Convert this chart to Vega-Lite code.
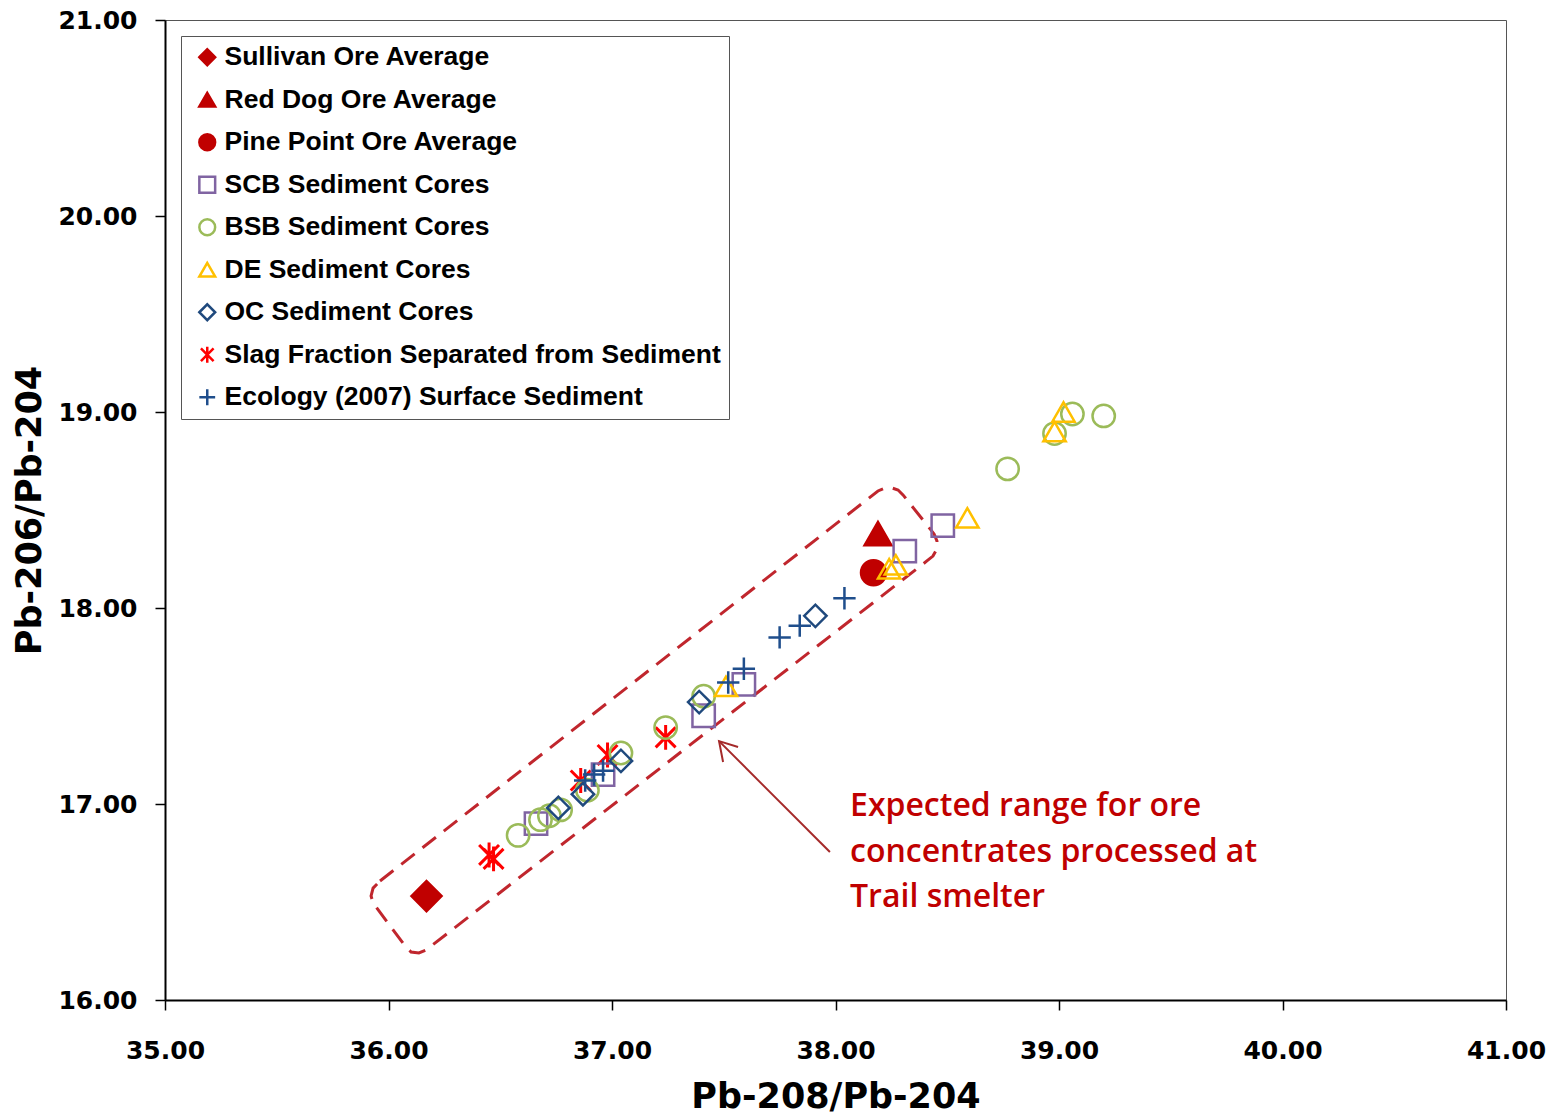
{
  "$schema": "https://vega.github.io/schema/vega-lite/v6.json",
  "width": 1341,
  "height": 980,
  "autosize": {"type": "none"},
  "padding": {"left": 165, "top": 20, "right": 50, "bottom": 120},
  "background": "white",
  "config": {
    "view": {"stroke": "#555555", "strokeWidth": 1},
    "axis": {
      "grid": false,
      "domainColor": "#000000",
      "domainWidth": 2,
      "tickColor": "#000000",
      "tickWidth": 1.5,
      "tickSize": 10,
      "labelFont": "DejaVu Sans",
      "labelFontWeight": "bold",
      "labelFontSize": 25,
      "labelColor": "#000000",
      "labelFlush": false,
      "titleFont": "DejaVu Sans",
      "titleFontWeight": "bold",
      "titleFontSize": 35,
      "titleColor": "#000000"
    }
  },
  "datasets": {
    "pts": [
      {"series": "Sullivan Ore Average", "x": 36.17, "y": 16.53},
      {"series": "Red Dog Ore Average", "x": 38.19, "y": 18.38},
      {"series": "Pine Point Ore Average", "x": 38.17, "y": 18.18},
      {"series": "SCB Sediment Cores", "x": 38.48, "y": 18.42},
      {"series": "SCB Sediment Cores", "x": 38.31, "y": 18.29},
      {"series": "SCB Sediment Cores", "x": 37.59, "y": 17.61},
      {"series": "SCB Sediment Cores", "x": 37.41, "y": 17.45},
      {"series": "SCB Sediment Cores", "x": 36.66, "y": 16.90},
      {"series": "SCB Sediment Cores", "x": 36.96, "y": 17.15},
      {"series": "BSB Sediment Cores", "x": 39.20, "y": 18.98},
      {"series": "BSB Sediment Cores", "x": 39.06, "y": 18.99},
      {"series": "BSB Sediment Cores", "x": 38.98, "y": 18.89},
      {"series": "BSB Sediment Cores", "x": 38.77, "y": 18.71},
      {"series": "BSB Sediment Cores", "x": 37.41, "y": 17.55},
      {"series": "BSB Sediment Cores", "x": 37.24, "y": 17.39},
      {"series": "BSB Sediment Cores", "x": 36.58, "y": 16.84},
      {"series": "BSB Sediment Cores", "x": 36.68, "y": 16.92},
      {"series": "BSB Sediment Cores", "x": 36.72, "y": 16.94},
      {"series": "BSB Sediment Cores", "x": 36.77, "y": 16.97},
      {"series": "BSB Sediment Cores", "x": 36.89, "y": 17.07},
      {"series": "BSB Sediment Cores", "x": 37.04, "y": 17.26},
      {"series": "DE Sediment Cores", "x": 39.02, "y": 19.00},
      {"series": "DE Sediment Cores", "x": 38.98, "y": 18.90},
      {"series": "DE Sediment Cores", "x": 38.59, "y": 18.46},
      {"series": "DE Sediment Cores", "x": 38.24, "y": 18.20},
      {"series": "DE Sediment Cores", "x": 38.27, "y": 18.22},
      {"series": "DE Sediment Cores", "x": 37.51, "y": 17.60},
      {"series": "OC Sediment Cores", "x": 37.91, "y": 17.96},
      {"series": "OC Sediment Cores", "x": 37.39, "y": 17.52},
      {"series": "OC Sediment Cores", "x": 36.76, "y": 16.98},
      {"series": "OC Sediment Cores", "x": 36.87, "y": 17.05},
      {"series": "OC Sediment Cores", "x": 37.04, "y": 17.22},
      {"series": "Slag Fraction Separated from Sediment", "x": 36.45, "y": 16.74},
      {"series": "Slag Fraction Separated from Sediment", "x": 36.47, "y": 16.72},
      {"series": "Slag Fraction Separated from Sediment", "x": 36.86, "y": 17.12},
      {"series": "Slag Fraction Separated from Sediment", "x": 36.98, "y": 17.25},
      {"series": "Slag Fraction Separated from Sediment", "x": 37.24, "y": 17.34},
      {"series": "Ecology (2007) Surface Sediment", "x": 38.04, "y": 18.05},
      {"series": "Ecology (2007) Surface Sediment", "x": 37.84, "y": 17.91},
      {"series": "Ecology (2007) Surface Sediment", "x": 37.75, "y": 17.85},
      {"series": "Ecology (2007) Surface Sediment", "x": 37.59, "y": 17.69},
      {"series": "Ecology (2007) Surface Sediment", "x": 37.52, "y": 17.62},
      {"series": "Ecology (2007) Surface Sediment", "x": 36.88, "y": 17.12},
      {"series": "Ecology (2007) Surface Sediment", "x": 36.92, "y": 17.15},
      {"series": "Ecology (2007) Surface Sediment", "x": 36.96, "y": 17.17}
    ],
    "box": [
      {"i": 1, "x": 35.962, "y": 16.607},
      {"i": 2, "x": 38.190, "y": 18.597},
      {"i": 3, "x": 38.221, "y": 18.612},
      {"i": 4, "x": 38.253, "y": 18.612},
      {"i": 5, "x": 38.280, "y": 18.602},
      {"i": 6, "x": 38.302, "y": 18.577},
      {"i": 7, "x": 38.441, "y": 18.378},
      {"i": 8, "x": 38.454, "y": 18.342},
      {"i": 9, "x": 38.454, "y": 18.301},
      {"i": 10, "x": 38.436, "y": 18.265},
      {"i": 11, "x": 38.409, "y": 18.240},
      {"i": 12, "x": 36.168, "y": 16.255},
      {"i": 13, "x": 36.136, "y": 16.240},
      {"i": 14, "x": 36.101, "y": 16.245},
      {"i": 15, "x": 36.074, "y": 16.276},
      {"i": 16, "x": 35.931, "y": 16.495},
      {"i": 17, "x": 35.922, "y": 16.531},
      {"i": 18, "x": 35.931, "y": 16.571},
      {"i": 19, "x": 35.962, "y": 16.607}
    ],
    "arrow": [
      {"seg": "shaft", "i": 1, "x": 37.975, "y": 16.755},
      {"seg": "shaft", "i": 2, "x": 37.479, "y": 17.321},
      {"seg": "head", "i": 1, "x": 37.564, "y": 17.291},
      {"seg": "head", "i": 2, "x": 37.479, "y": 17.321},
      {"seg": "head", "i": 3, "x": 37.497, "y": 17.214}
    ],
    "note": [
      {"x": 38.065, "y": 16.99, "text": "Expected range for ore"},
      {"x": 38.065, "y": 16.755, "text": "concentrates processed at"},
      {"x": 38.065, "y": 16.526, "text": "Trail smelter"}
    ]
  },
  "encoding": {
    "x": {
      "field": "x",
      "type": "quantitative",
      "scale": {"domain": [35, 41], "nice": false, "zero": false},
      "axis": {
        "title": "Pb-208/Pb-204",
        "values": [35, 36, 37, 38, 39, 40, 41],
        "format": ".2f",
        "labelPadding": 28,
        "titlePadding": 16
      }
    },
    "y": {
      "field": "y",
      "type": "quantitative",
      "scale": {"domain": [16, 21], "nice": false, "zero": false},
      "axis": {
        "title": "Pb-206/Pb-204",
        "values": [16, 17, 18, 19, 20, 21],
        "format": ".2f",
        "labelPadding": 18,
        "titlePadding": 10
      }
    }
  },
  "layer": [
    {
      "data": {"name": "box"},
      "mark": {"type": "line", "color": "#C0262D", "strokeWidth": 3, "strokeDash": [17, 10], "interpolate": "linear"},
      "encoding": {"order": {"field": "i", "type": "quantitative"}}
    },
    {
      "data": {"name": "arrow"},
      "mark": {"type": "line", "color": "#A52A2A", "strokeWidth": 2},
      "encoding": {
        "detail": {"field": "seg", "type": "nominal"},
        "order": {"field": "i", "type": "quantitative"}
      }
    },
    {
      "data": {"name": "note"},
      "mark": {"type": "text", "align": "left", "baseline": "middle", "font": "Open Sans", "fontWeight": 600, "fontSize": 32, "color": "#C00000"},
      "encoding": {"text": {"field": "text", "type": "nominal"}}
    },
    {
      "data": {"name": "pts"},
      "layer": [
        {
          "transform": [{"filter": "datum.series === 'Sullivan Ore Average'"}],
          "mark": {"type": "point", "opacity": 1, "strokeWidth": 2, "size": 950}
        },
        {
          "transform": [{"filter": "datum.series === 'Red Dog Ore Average'"}],
          "mark": {"type": "point", "opacity": 1, "strokeWidth": 2, "size": 760}
        },
        {
          "transform": [{"filter": "datum.series === 'Pine Point Ore Average'"}],
          "mark": {"type": "point", "opacity": 1, "strokeWidth": 2, "size": 650}
        },
        {
          "transform": [{"filter": "datum.series === 'Slag Fraction Separated from Sediment'"}],
          "mark": {"type": "point", "opacity": 1, "strokeWidth": 3, "size": 620}
        },
        {
          "transform": [{"filter": "datum.series !== 'Sullivan Ore Average' && datum.series !== 'Red Dog Ore Average' && datum.series !== 'Pine Point Ore Average' && datum.series !== 'Slag Fraction Separated from Sediment'"}],
          "mark": {"type": "point", "opacity": 1, "strokeWidth": 2.5, "size": 500}
        }
      ],
      "encoding": {
        "shape": {
          "field": "series",
          "type": "nominal",
          "sort": null,
          "scale": {
            "domain": ["Sullivan Ore Average", "Red Dog Ore Average", "Pine Point Ore Average", "SCB Sediment Cores", "BSB Sediment Cores", "DE Sediment Cores", "OC Sediment Cores", "Slag Fraction Separated from Sediment", "Ecology (2007) Surface Sediment"],
            "range": ["diamond", "triangle-up", "circle", "square", "circle", "triangle-up", "diamond", "M-0.8,-0.8L0.8,0.8M-0.8,0.8L0.8,-0.8M0,-1L0,1", "M-1,0L1,0M0,-1L0,1"]
          },
          "legend": {
            "title": null,
            "orient": "none",
            "legendX": 16,
            "legendY": 16,
            "padding": 8,
            "symbolOffset": 5,
            "labelOffset": 4,
            "rowPadding": 15.5,
            "symbolSize": 250,
            "symbolStrokeWidth": 2.5,
            "labelFont": "Liberation Sans",
            "labelFontWeight": "bold",
            "labelFontSize": 26.5,
            "labelColor": "#000000",
            "labelLimit": 800,
            "strokeColor": "#555555",
            "fillColor": "white"
          }
        },
        "stroke": {
          "field": "series",
          "type": "nominal",
          "sort": null,
          "scale": {
            "domain": ["Sullivan Ore Average", "Red Dog Ore Average", "Pine Point Ore Average", "SCB Sediment Cores", "BSB Sediment Cores", "DE Sediment Cores", "OC Sediment Cores", "Slag Fraction Separated from Sediment", "Ecology (2007) Surface Sediment"],
            "range": ["#C00000", "#C00000", "#C00000", "#8064A2", "#9BBB59", "#FFC000", "#1F497D", "#FF0000", "#1F4E8C"]
          },
          "legend": {"title": null}
        },
        "fill": {
          "field": "series",
          "type": "nominal",
          "sort": null,
          "scale": {
            "domain": ["Sullivan Ore Average", "Red Dog Ore Average", "Pine Point Ore Average", "SCB Sediment Cores", "BSB Sediment Cores", "DE Sediment Cores", "OC Sediment Cores", "Slag Fraction Separated from Sediment", "Ecology (2007) Surface Sediment"],
            "range": ["#C00000", "#C00000", "#C00000", "transparent", "transparent", "transparent", "transparent", "transparent", "transparent"]
          },
          "legend": {"title": null}
        }
      }
    }
  ]
}
